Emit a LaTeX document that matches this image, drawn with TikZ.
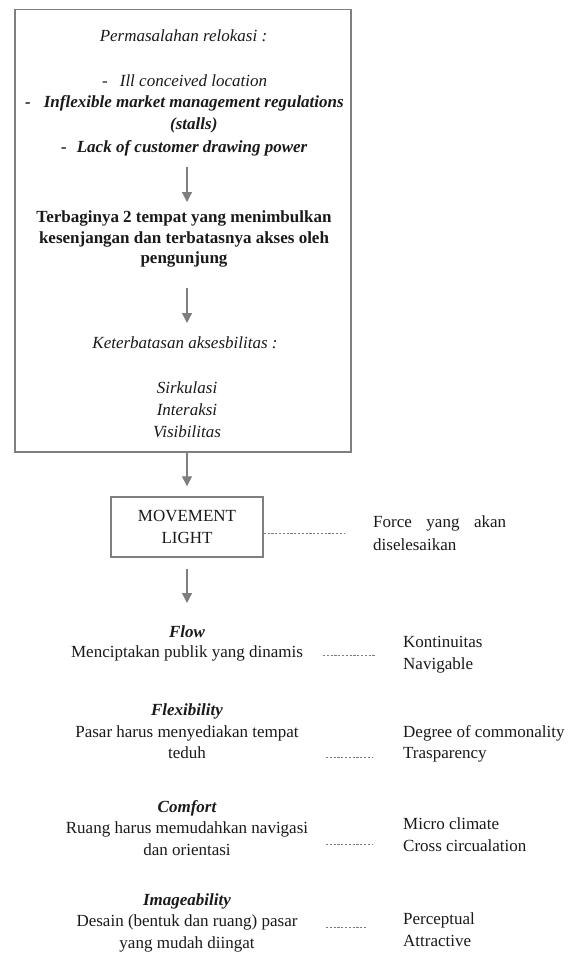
\documentclass[tikz,border=0pt]{standalone}
\usepackage{fontspec}
\setmainfont{Liberation Serif}
\usetikzlibrary{arrows.meta}
\definecolor{ink}{HTML}{1A1A1A}
\definecolor{linegray}{HTML}{7F7F7F}
\definecolor{dotgray}{HTML}{7A7A7A}
\newcommand\diagfs{\fontsize{17}{21.5}\selectfont}
\tikzset{
  txt/.style={inner sep=0pt, anchor=base, text=ink, font=\diagfs},
  txti/.style={txt, font=\diagfs\itshape},
  txtb/.style={txt, font=\diagfs\bfseries},
  txtbi/.style={txt, font=\diagfs\bfseries\itshape},
  boxline/.style={draw=linegray, line width=1.4pt},
  arr/.style={draw=linegray, line width=1.3pt, -{Triangle[length=10pt,width=10pt]}},
  dotline/.style={draw=dotgray, line width=1pt, dash pattern=on 2.2pt off 1.6pt},
}
\begin{document}
\begin{tikzpicture}[x=1pt,y=-1pt]
\useasboundingbox[fill=white] (0,0) rectangle (581,955);

% big box
\node[boxline, minimum width=336pt, minimum height=442.5pt, inner sep=0pt] (big) at (183,230.75) {};

\node[txti] (p1) at (183.5,42) {Permasalahan relokasi :};
\node[txti, anchor=base west] (p2) at (102,87) {-\hspace{12pt}Ill conceived location};
\node[txtbi, anchor=base west] (p3) at (25,108) {-\hspace{13pt}Inflexible market management regulations};
\node[txtbi, anchor=base west] (p4) at (170,130) {(stalls)};
\node[txtbi, anchor=base west] (p5) at (61,153) {-\hspace{10pt}Lack of customer drawing power};

\coordinate (a1s) at (187,167);
\coordinate (a1e) at (187,202);
\draw[arr] (a1s) -- (a1e);

\node[txtb] (p6) at (184,222) {Terbaginya 2 tempat yang menimbulkan};
\node[txtb] (p7) at (184,243) {kesenjangan dan terbatasnya akses oleh};
\node[txtb] (p8) at (184,263) {pengunjung};

\coordinate (a2s) at (187,288);
\coordinate (a2e) at (187,323);
\draw[arr] (a2s) -- (a2e);

\node[txti] (p9) at (185,348) {Keterbatasan aksesbilitas :};
\node[txti] (p10) at (187,393) {Sirkulasi};
\node[txti] (p11) at (187,415) {Interaksi};
\node[txti] (p12) at (187,437) {Visibilitas};

% movement box
\node[boxline, minimum width=152pt, minimum height=60pt, inner sep=0pt, align=center, text=ink, font=\diagfs] (mv) at (187,527) {MOVEMENT\\LIGHT};
\draw[arr] (big.south -| mv.north) -- ([yshift=10pt]mv.north);

\coordinate (fd) at (345,533);
\draw[dotline] ([yshift=-6pt]mv.east) -- (fd);
\node[txt, anchor=base west] (f1) at (373,527) {\makebox[133pt][s]{Force yang akan}};
\node[txt, anchor=base west] (f2) at (373,550) {diselesaikan};

\coordinate (flowtop) at (187,603);
\draw[arr] ([yshift=-11pt]mv.south) -- (flowtop);

% Flow
\node[txtbi] (g1h) at (187,637) {Flow};
\node[txt] (g1a) at (187,657) {Menciptakan publik yang dinamis};
\node[txt, anchor=base west] (g1r1) at (403,647) {Kontinuitas};
\node[txt, anchor=base west] (g1r2) at (403,669) {Navigable};
\coordinate (d1s) at (323,655);
\coordinate (d1e) at (375,655);
\draw[dotline] (d1s) -- (d1e);

% Flexibility
\node[txtbi] (g2h) at (187,715) {Flexibility};
\node[txt] (g2a) at (187,737) {Pasar harus menyediakan tempat};
\node[txt] (g2b) at (187,758) {teduh};
\node[txt, anchor=base west] (g2r1) at (403,737) {Degree of commonality};
\node[txt, anchor=base west] (g2r2) at (403,758) {Trasparency};
\coordinate (d2s) at (326,757);
\coordinate (d2e) at (373,757);
\draw[dotline] (d2s) -- (d2e);

% Comfort
\node[txtbi] (g3h) at (187,812) {Comfort};
\node[txt] (g3a) at (187,833) {Ruang harus memudahkan navigasi};
\node[txt] (g3b) at (187,855) {dan orientasi};
\node[txt, anchor=base west] (g3r1) at (403,829) {Micro climate};
\node[txt, anchor=base west] (g3r2) at (403,851) {Cross circualation};
\coordinate (d3s) at (326,844);
\coordinate (d3e) at (373,844);
\draw[dotline] (d3s) -- (d3e);

% Imageability
\node[txtbi] (g4h) at (187,905) {Imageability};
\node[txt] (g4a) at (187,926) {Desain (bentuk dan ruang) pasar};
\node[txt] (g4b) at (187,948) {yang mudah diingat};
\node[txt, anchor=base west] (g4r1) at (403,924) {Perceptual};
\node[txt, anchor=base west] (g4r2) at (403,946) {Attractive};
\coordinate (d4s) at (326,927);
\coordinate (d4e) at (367,927);
\draw[dotline] (d4s) -- (d4e);
\end{tikzpicture}
\end{document}
